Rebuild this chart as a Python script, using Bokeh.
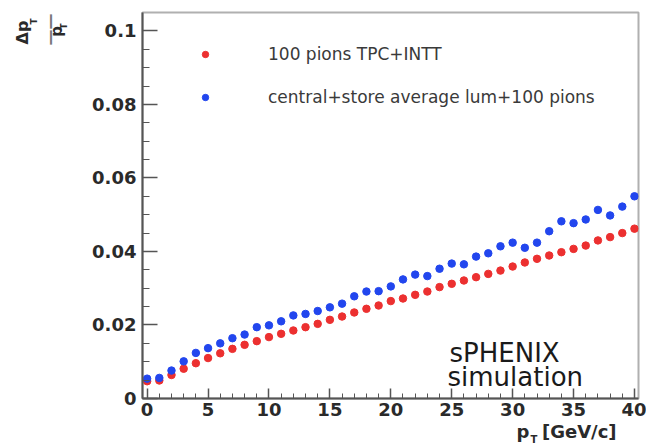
import math
from bokeh.plotting import figure
from bokeh.models import (Range1d, FixedTicker, CustomJSTickFormatter, Label,
                          Legend, LegendItem)
from bokeh.embed import file_html
from bokeh.resources import INLINE

# ---------------- data ----------------
pt = list(range(0, 41))
res_tpc_intt = [0.0047, 0.0049, 0.0064, 0.0081, 0.0096, 0.0110, 0.0123, 0.0135, 0.0146, 0.0156,
                0.0167, 0.0176, 0.0185, 0.0194, 0.0203, 0.0214, 0.0223, 0.0234, 0.0244, 0.0253,
                0.0265, 0.0272, 0.0282, 0.0291, 0.0303, 0.0312, 0.0321, 0.0330, 0.0339, 0.0348,
                0.0359, 0.0370, 0.0380, 0.0389, 0.0398, 0.0407, 0.0416, 0.0430, 0.0439, 0.0450,
                0.0462]
res_lum = [0.0054, 0.0056, 0.0076, 0.0101, 0.0124, 0.0137, 0.0150, 0.0164, 0.0174, 0.0194,
           0.0199, 0.0210, 0.0226, 0.0230, 0.0238, 0.0248, 0.0258, 0.0278, 0.0291, 0.0292,
           0.0305, 0.0324, 0.0337, 0.0333, 0.0353, 0.0367, 0.0365, 0.0386, 0.0395, 0.0414,
           0.0424, 0.0410, 0.0424, 0.0455, 0.0482, 0.0477, 0.0487, 0.0513, 0.0498, 0.0522,
           0.0550]
series_labels = ["100 pions TPC+INTT", "central+store average lum+100 pions"]
x_major_ticks = [0, 5, 10, 15, 20, 25, 30, 35, 40]
x_minor_ticks = list(range(0, 41))
y_major_ticks = [0, 0.02, 0.04, 0.06, 0.08, 0.1]
y_minor_ticks = [i * 0.005 for i in range(0, 21)]

# ---------------- layout ----------------
W, H = 646, 446
FL, FR, FT, FB = 142, 638, 12, 398   # frame edges (canvas px)
X0, X1 = -0.38, 40.33
Y0, Y1 = 0.0, 0.105

p = figure(width=W, height=H, output_backend="svg", toolbar_location=None,
           x_range=Range1d(X0, X1), y_range=Range1d(Y0, Y1),
           min_border_left=FL, min_border_right=W - FR,
           min_border_top=FT, min_border_bottom=H - FB)
p.title.visible = False
p.grid.visible = False
p.background_fill_color = "white"
p.border_fill_color = "white"
p.outline_line_color = "#b0b0b0"
p.outline_line_width = 2

RED = "#ec3030"
BLUE = "#2246ee"
r1 = p.scatter(pt, res_tpc_intt, size=7.5, color=RED, marker="circle")
r2 = p.scatter(pt, res_lum, size=7.5, color=BLUE, marker="circle")

# axes
for ax in (p.xaxis[0], p.yaxis[0]):
    ax.axis_line_color = "#555555"
    ax.axis_line_width = 2
    ax.major_tick_line_color = "#555555"
    ax.minor_tick_line_color = "#555555"
    ax.major_tick_line_width = 1.5
    ax.minor_tick_line_width = 1
    ax.major_tick_out = 0
    ax.minor_tick_out = 0
    ax.major_label_text_font = "DejaVu Sans"
    ax.major_label_text_font_style = "bold"
    ax.major_label_text_font_size = "18px"
    ax.major_label_text_color = "#2a2a2a"

p.xaxis.ticker = FixedTicker(ticks=x_major_ticks, minor_ticks=x_minor_ticks)
p.xaxis.major_tick_in = 10
p.xaxis.minor_tick_in = 5
p.xaxis.major_label_standoff = 4

p.yaxis.ticker = FixedTicker(ticks=y_major_ticks, minor_ticks=y_minor_ticks)
p.yaxis.formatter = CustomJSTickFormatter(code="return String(Math.round(tick*100)/100);")
p.yaxis.major_tick_in = 15
p.yaxis.minor_tick_in = 7
p.yaxis.major_label_standoff = 6

# legend
legend = Legend(items=[LegendItem(label=series_labels[0], renderers=[r1]),
                       LegendItem(label=series_labels[1], renderers=[r2])],
                location=(55, 291), padding=0, margin=0, spacing=23,
                glyph_width=16, glyph_height=16, label_height=16, label_standoff=55,
                border_line_alpha=0, background_fill_alpha=0,
                label_text_font="DejaVu Sans", label_text_font_size="17px",
                label_text_color="#3a3a3a")
p.add_layout(legend)


# canvas pixel -> data coordinate helpers (for annotation placement only)
def dx(cx):
    return X0 + (cx - FL) * (X1 - X0) / (FR - FL)


def dy(cy):
    return Y0 + (FB - cy) * (Y1 - Y0) / (FB - FT)


def make_label(text, cx, cy, size, bold=True, angle=0.0, align="center",
               baseline="middle", color="#2a2a2a"):
    return Label(x=dx(cx), y=dy(cy), text=text, angle=angle,
                 text_align=align, text_baseline=baseline,
                 text_font="DejaVu Sans", text_font_style="bold" if bold else "normal",
                 text_font_size=size, text_color=color)


# y axis title: Δp_T / p_T (rotated fraction), placed in the left side panel
p.add_layout(make_label("Δp", 22, 32, "16px", angle=math.pi / 2), "left")
p.add_layout(make_label("T", 33, 21, "9px", angle=math.pi / 2), "left")
p.add_layout(make_label("\u2014\u2014", 49, 29, "16px", angle=math.pi / 2,
                        color="#7a7a7a"), "left")
p.add_layout(make_label("p", 56, 31, "15px", angle=math.pi / 2), "left")
p.add_layout(make_label("T", 63, 26, "9px", angle=math.pi / 2), "left")
# subscript of the x axis title
p.add_layout(make_label("T", 530, 439, "10px", align="left"), "left")

# x axis title: p_T [GeV/c], placed in the bottom side panel
p.add_layout(make_label("p\u00a0\u00a0[GeV/c]", 516, 431, "18px", align="left"), "below")

# sPHENIX simulation
p.add_layout(make_label("sPHENIX", 449, 352, "26px", bold=False, align="left",
                        baseline="alphabetic", color="#1a1a1a"))
p.add_layout(make_label("simulation", 447, 376, "26px", bold=False, align="left",
                        baseline="alphabetic", color="#1a1a1a"))

open("out.html", "w").write(file_html(p, INLINE))
